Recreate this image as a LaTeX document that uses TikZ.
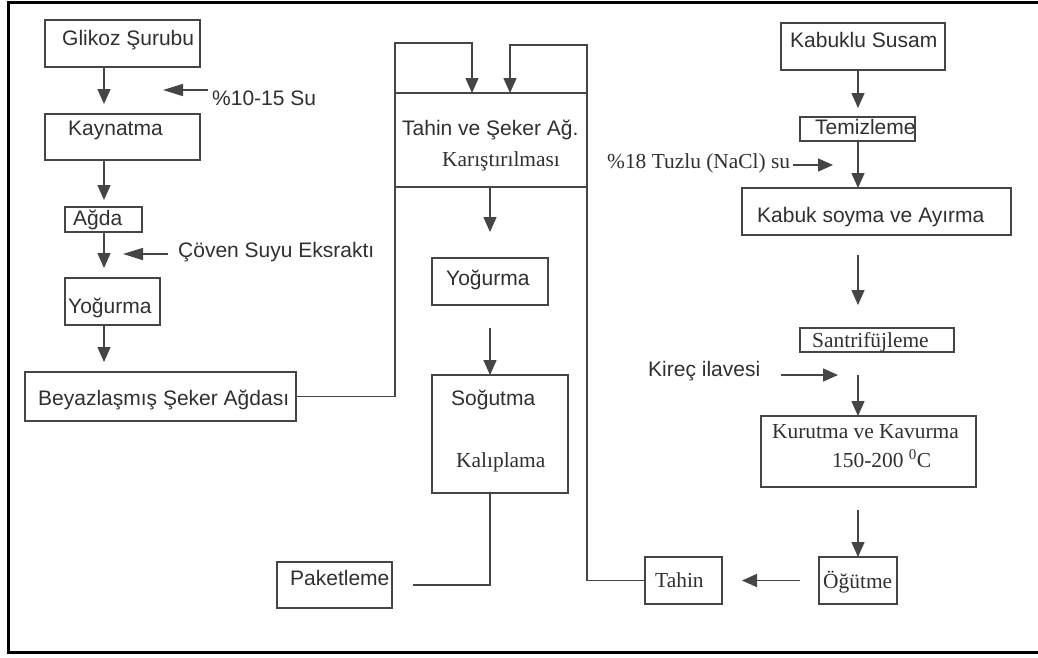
\documentclass[tikz,border=0pt]{standalone}
\usepackage{fontspec}
\setmainfont{Liberation Serif}
\setsansfont{Liberation Sans}
\usetikzlibrary{arrows.meta}
\definecolor{ink}{HTML}{454545}
\definecolor{txt}{HTML}{303030}
\tikzset{
  box/.style={draw=ink, line width=1.5pt, rectangle, inner sep=0pt, outer sep=0pt},
  st/.style={inner sep=0pt, anchor=base west, text=txt, font=\sffamily\fontsize{21}{25}\selectfont},
  rt/.style={inner sep=0pt, anchor=base west, text=txt, font=\rmfamily\fontsize{21.4}{25}\selectfont},
  wire/.style={draw=ink, line width=1.5pt},
  arr/.style={wire, -{Triangle[length=15pt,width=13pt]}},
  longarr/.style={wire, -{Triangle[length=20pt,width=12pt]}}
}
\begin{document}
\begin{tikzpicture}[x=1pt,y=-1pt]
\useasboundingbox (0,0) rectangle (1038,657);
\clip (0,0) rectangle (1038,657);
\fill[white] (0,0) rectangle (1038,657);
% outer frame
\draw[black, line width=3pt] (8,2) rectangle (1060,652);

% ---- sugar syrup line (left) ----
\node[box, minimum width=155pt, minimum height=47pt] (glikoz) at (122.5,43.5) {};
\node[st] (glikozt) at (62,45) {Glikoz Şurubu};
\node[box, minimum width=155pt, minimum height=46pt] (kaynatma) at (122.5,137) {};
\node[st] (kaynatmat) at (68,135) {Kaynatma};
\node[box, minimum width=77pt, minimum height=25pt] (agda) at (103.5,219.5) {};
\node[st] (agdat) at (73,225) {Ağda};
\node[box, minimum width=95pt, minimum height=47pt] (yog1) at (112.5,301.5) {};
\node[st] (yog1t) at (68,313) {Yoğurma};
\node[box, minimum width=271pt, minimum height=49pt] (beyaz) at (160.5,396.5) {};
\node[st] (beyazt) at (38,405) {Beyazlaşmış Şeker Ağdası};

\node[st] (su) at (212,105) {\%10-15 Su};
\node[st] (coven) at (178,257) {Çöven Suyu Eksraktı};

% ---- mixing and shaping (middle) ----
\node[box, minimum width=192pt, minimum height=94pt] (karis) at (491,140) {};
\node[st] (karist1) at (402,135) {Tahin ve Şeker Ağ.};
\node[rt] (karist2) at (442,166) {Karıştırılması};
\node[box, minimum width=116pt, minimum height=47pt] (yog2) at (490,281.5) {};
\node[st] (yog2t) at (446,285) {Yoğurma};
\node[box, minimum width=136pt, minimum height=118pt] (sogut) at (500,434) {};
\node[st] (sogutt) at (451,405) {Soğutma};
\node[rt] (kalipt) at (456,467) {Kalıplama};
\node[box, minimum width=115pt, minimum height=46pt] (paket) at (334.5,585) {};
\node[st] (pakett) at (290,585) {Paketleme};

% ---- sesame line (right) ----
\node[box, minimum width=164pt, minimum height=47pt] (kabuklu) at (863,46.5) {};
\node[st] (kabuklut) at (790,47) {Kabuklu Susam};
\node[box, minimum width=115pt, minimum height=24pt] (temiz) at (857.5,129) {};
\node[st] (temizt) at (815,134) {Temizleme};
\node[box, minimum width=269pt, minimum height=47pt] (kabuk) at (876.5,211.5) {};
\node[st] (kabukt) at (757,222) {Kabuk soyma ve Ayırma};
\node[box, minimum width=154pt, minimum height=24pt] (santri) at (877,340) {};
\node[rt] (santrit) at (812,347) {Santrifüjleme};
\node[box, minimum width=215pt, minimum height=71pt] (kurut) at (868.5,451.5) {};
\node[rt] (kurutt1) at (772,438) {Kurutma ve Kavurma};
\node[rt] (kurutt2) at (832,467) {150-200 \textsuperscript{0}C};
\node[box, minimum width=78pt, minimum height=47pt] (ogut) at (858,580.5) {};
\node[rt] (ogutt) at (823,588) {Öğütme};
\node[box, minimum width=77pt, minimum height=47pt] (tahin) at (683.5,580.5) {};
\node[rt] (tahint) at (655,587) {Tahin};

\node[rt] (tuzlu) at (607,168) {\%18 Tuzlu (NaCl) su};
\node[st] (kirec) at (648,376) {Kireç ilavesi};

% ---- guide coordinates ----
\coordinate (lx) at (104,0);
\coordinate (rx) at (858,0);
\coordinate (sutip) at (163,90);
\coordinate (coventip) at (123,254);
\coordinate (tuzlutip) at (833,165);
\coordinate (kirectip) at (838,375);
\coordinate (lt) at (395,43);
\coordinate (la) at (472,43);
\coordinate (rtop) at (587,45);
\coordinate (ra) at (510,45);

% ---- connectors, left ----
\draw[arr, shorten >=10pt] (glikoz.south -| lx) -- (kaynatma.north -| lx);
\draw[arr, shorten >=7pt] (kaynatma.south -| lx) -- (agda.north -| lx);
\draw[arr, shorten >=10pt] (agda.south -| lx) -- (yog1.north -| lx);
\draw[arr, shorten >=10pt] (yog1.south -| lx) -- (beyaz.north -| lx);
\draw[longarr, shorten <=4pt] (su.west |- sutip) -- (sutip);
\draw[longarr, shorten <=10pt] (coven.west |- coventip) -- (coventip);

% ---- connectors, middle ----
\draw[arr] (beyaz.east) -| (lt) -- (la) -- (la |- karis.north);
\draw[arr] (tahin.west) -| (rtop) -- (ra) -- (ra |- karis.north);
\draw[arr, shorten >=26pt] (karis.south -| yog2.south) -- (yog2.north);
\draw[arr, shorten <=23pt] (yog2.south) -- (yog2.south |- sogut.north);
\draw[wire, shorten >=21pt] (yog2.south |- sogut.south) |- (paket.east);

% ---- connectors, right ----
\draw[arr, shorten >=9pt] (kabuklu.south -| rx) -- (temiz.north -| rx);
\draw[arr] (temiz.south -| rx) -- (kabuk.north -| rx);
\draw[arr, shorten <=20pt, shorten >=23pt] (kabuk.south -| rx) -- (santri.north -| rx);
\draw[arr, shorten <=23pt] (santri.south -| rx) -- (kurut.north -| rx);
\draw[arr, shorten <=23pt] (kurut.south -| rx) -- (ogut.north -| rx);
\draw[arr, shorten <=19pt, shorten >=20pt] (ogut.west) -- (tahin.east);
\draw[arr, shorten <=3pt] (tuzlu.east |- tuzlutip) -- (tuzlutip);
\draw[arr, shorten <=21pt] (kirec.east |- kirectip) -- (kirectip);
\end{tikzpicture}
\end{document}
